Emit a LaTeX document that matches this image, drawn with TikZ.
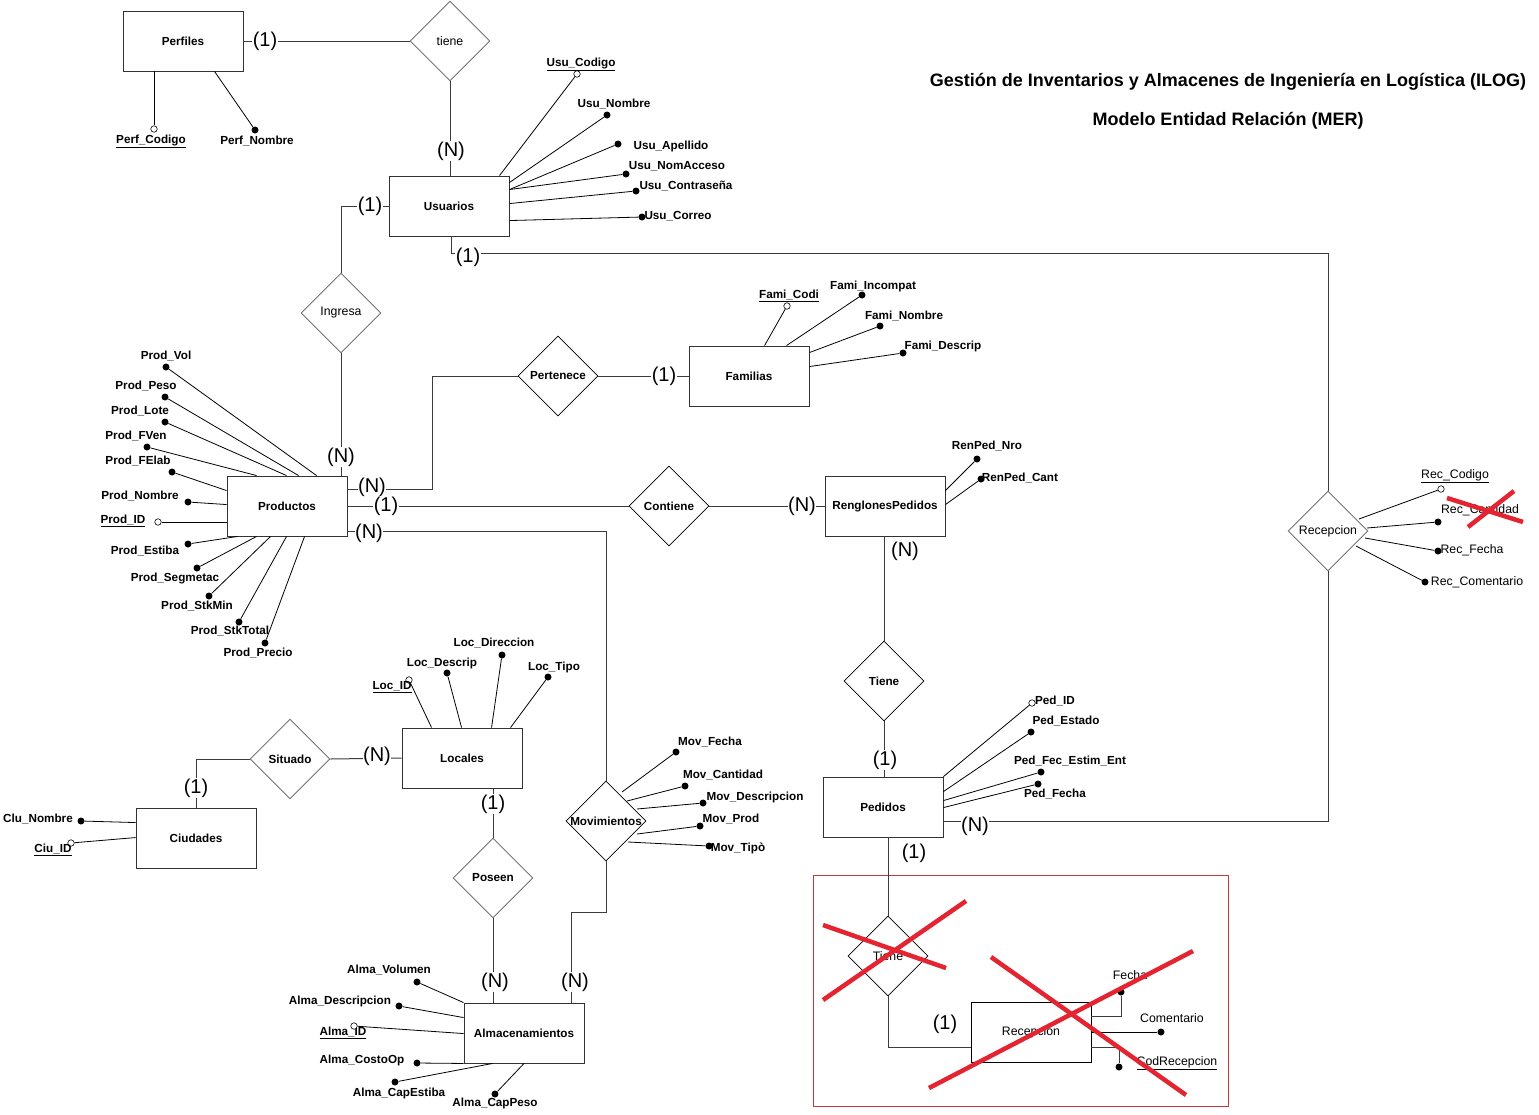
\documentclass[tikz,border=0pt]{standalone}
\usepackage{fontspec}
\setmainfont{Liberation Sans}
\usetikzlibrary{shapes.geometric,calc}
\newcommand\lbl{\fontsize{11.7}{14}\selectfont\bfseries}
\newcommand\lblr{\fontsize{12.3}{14}\selectfont}
\newcommand\cardf{\fontsize{20}{22}\selectfont}
\newcommand\ttlf{\fontsize{18}{21}\selectfont\bfseries}
\definecolor{boxred}{RGB}{200,55,55}
\definecolor{xred}{RGB}{228,36,48}
\definecolor{edge}{RGB}{60,60,60}

\begin{document}
\begin{tikzpicture}[x=1pt,y=-1pt,
 ent/.style={draw=black!80, line width=0.9pt, minimum width=120pt, minimum height=60pt, inner sep=1pt, fill=white, font=\lbl},
 entr/.style={ent, draw=black, line width=0.8pt, font=\lblr},
 dia/.style={diamond, draw=black, line width=0.7pt, minimum width=80pt, minimum height=80pt, inner sep=0pt, fill=white},
 rb/.style={dia, label={[font=\lbl, inner sep=0pt]center:#1}},
 rr/.style={dia, label={[font=\lblr, inner sep=0pt]center:#1}},
 grey/.style={draw=black!55, line width=0.9pt},
 card/.style={fill=white, inner sep=0.5pt, font=\cardf},
 attr/.style={inner sep=0pt, font=\lbl},
 attrr/.style={inner sep=0pt, font=\lblr},
 key/.style={circle, draw=black, fill=white, line width=0.6pt, minimum size=6.5pt, inner sep=0pt},
 val/.style={circle, fill=black, minimum size=7pt, inner sep=0pt},
 link/.style={draw=edge, line width=1pt},
 aline/.style={draw=black, line width=0.8pt},
 cross/.style={draw=xred, line width=4.5pt},
]
\fill[white] (0,0) rectangle (1539,1114);
\useasboundingbox (0,0) rectangle (1539,1114);

% title
\node[font=\ttlf] (title1) at (1228,82) {Gestión de Inventarios y Almacenes de Ingeniería en Logística (ILOG)};
\node[font=\ttlf] (title2) at (1228,121) {Modelo Entidad Relación (MER)};

% frame around the discarded part
\node[draw=boxred, line width=1pt, minimum width=415pt, minimum height=231pt, inner sep=0pt] (frame) at (1020.5,990.5) {};

% entities
\node[ent] (perf) at (183,41) {Perfiles};
\node[ent] (usu) at (449,206) {Usuarios};
\node[ent] (prod) at (287,506) {Productos};
\node[ent] (fam) at (749,376) {Familias};
\node[ent] (ren) at (885,506) {RenglonesPedidos};
\node[ent] (ped) at (883,807) {Pedidos};
\node[ent] (loc) at (462,758) {Locales};
\node[ent] (ciu) at (196,838) {Ciudades};
\node[ent] (alma) at (524,1033) {Almacenamientos};
\node[entr] (rcp) at (1031,1032) {Recepcion};

% relationships
\node[rr=tiene, grey] (tiene) at (450,41) {};
\node[rr=Ingresa, grey] (ing) at (341,313) {};
\node[rb=Pertenece] (pert) at (558,376) {};
\node[rb=Contiene] (cont) at (669,506) {};
\node[rb=Tiene] (tie) at (884,681) {};
\node[rb=Situado, grey] (sit) at (290,759) {};
\node[rb=Poseen, grey] (pos) at (493,878) {};
\node[rb=Movimientos] (mov) at (606,821) {};
\node[rr=Recepcion, grey] (rec) at (1328,531) {};
\node[rr=Tiene] (tie2) at (888,956) {};

% connectors between entities and relationships
\coordinate (jpert) at (432,376);
\coordinate (jmov) at (571,912);
\coordinate (jusu) at (451,253);
\draw[link] (perf.east) -- (tiene.west);
\draw[link] (tiene.south) -- (tiene.south |- usu.north);
\draw[link] (usu.west) -| (ing.north);
\draw[link] (ing.south) -- (ing.south |- prod.north);
\draw[link] ($(prod.north east)+(0,14)$) -| (jpert) -- (pert.west);
\draw[link] (pert.east) -- (fam.west);
\draw[link] (prod.east) -- (cont.west);
\draw[link] (cont.east) -- (ren.west);
\draw[link] ($(prod.south east)+(0,-5)$) -| (mov.north);
\draw[link] (mov.south) |- (jmov) -- (jmov |- alma.north);
\draw[link] (pos.north |- loc.south) -- (pos.north);
\draw[link] (pos.south) -- (pos.south |- alma.north);
\draw[link] (loc.west) -- (sit.east);
\draw[link] (sit.west) -| (ciu.north);
\draw[link] (tie.north |- ren.south) -- (tie.north);
\draw[link] (tie.south) -- (tie.south |- ped.north);
\draw[link] ($(ped.north east)+(0,45)$) -| (rec.south);
\draw[link] (rec.north) |- (jusu) -- (jusu |- usu.south);
\draw[link] (tie2.north |- ped.south) -- (tie2.north);
\draw[link] (tie2.south) |- ($(rcp.west)+(0,15)$);

% cardinalities
\node[card] (k1) at (265,41) {(1)};
\node[card] (k2) at (451,151) {(N)};
\node[card] (k3) at (370,206) {(1)};
\node[card] (k4) at (468,257) {(1)};
\node[card] (k5) at (341,457) {(N)};
\node[card] (k6) at (372,487) {(N)};
\node[card] (k7) at (386,506) {(1)};
\node[card] (k8) at (369,533) {(N)};
\node[card] (k9) at (664,376) {(1)};
\node[card] (k10) at (802,506) {(N)};
\node[card] (k11) at (905,551) {(N)};
\node[card] (k12) at (885,760) {(1)};
\node[card] (k13) at (975,826) {(N)};
\node[card] (k14) at (914,853) {(1)};
\node[card] (k15) at (945,1024) {(1)};
\node[card] (k16) at (377,756) {(N)};
\node[card] (k17) at (196,788) {(1)};
\node[card] (k18) at (493,804) {(1)};
\node[card] (k19) at (495,982) {(N)};
\node[card] (k20) at (575,982) {(N)};

% Perfiles attributes
\node[key] (pfc) at (154,129) {};
\node[attr] (pfct) at (151,141) {\underline{Perf\_Codigo}};
\draw[aline] (pfc |- perf.south) -- (pfc);
\node[val] (pfn) at (255,130) {};
\node[attr] (pfnt) at (257,141) {Perf\_Nombre};
\draw[aline] ($(perf.south west)+(92,0)$) -- (pfn);

% Usuarios attributes
\node[key] (uc) at (577,74) {};
\node[attr] (uct) at (581,64) {\underline{Usu\_Codigo}};
\draw[aline] ($(usu.north west)+(111,0)$) -- (uc);
\node[val] (un) at (607,115) {};
\node[attr] (unt) at (614,104) {Usu\_Nombre};
\draw[aline] ($(usu.north east)+(0,7)$) -- (un);
\node[val] (ua) at (618,144) {};
\node[attr] (uat) at (671,146) {Usu\_Apellido};
\draw[aline] ($(usu.north east)+(0,14)$) -- (ua);
\node[val] (una) at (626,174) {};
\node[attr] (unat) at (677,166) {Usu\_NomAcceso};
\draw[aline] ($(usu.north east)+(0,14)$) -- (una);
\node[val] (uco) at (636,191) {};
\node[attr] (ucot) at (686,186) {Usu\_Contraseña};
\draw[aline] ($(usu.north east)+(0,28)$) -- (uco);
\node[val] (ucr) at (642,217) {};
\node[attr] (ucrt) at (678,216) {Usu\_Correo};
\draw[aline] ($(usu.north east)+(0,45)$) -- (ucr);

% Productos attributes
\node[val] (p1) at (166,367) {};
\node[attr] (p1t) at (166,356) {Prod\_Vol};
\draw[aline] (p1) -- ($(prod.north west)+(90,0)$);
\node[val] (p2) at (165,397) {};
\node[attr] (p2t) at (146,386) {Prod\_Peso};
\draw[aline] (p2) -- ($(prod.north west)+(72,0)$);
\node[val] (p3) at (165,422) {};
\node[attr] (p3t) at (140,411) {Prod\_Lote};
\draw[aline] (p3) -- ($(prod.north west)+(60,0)$);
\node[val] (p4) at (147,447) {};
\node[attr] (p4t) at (136,436) {Prod\_FVen};
\draw[aline] (p4) -- ($(prod.north west)+(30,0)$);
\node[val] (p5) at (172,472) {};
\node[attr] (p5t) at (138,461) {Prod\_FElab};
\draw[aline] (p5) -- ($(prod.north west)+(0,15)$);
\node[val] (p6) at (188,502) {};
\node[attr] (p6t) at (140,496) {Prod\_Nombre};
\draw[aline] (p6) -- ($(prod.north west)+(0,29)$);
\node[key] (p7) at (158,522) {};
\node[attr] (p7t) at (123,521) {\underline{Prod\_ID}};
\draw[aline] (p7) -- (p7 -| prod.west);
\node[val] (p8) at (188,544) {};
\node[attr] (p8t) at (145,551) {Prod\_Estiba};
\draw[aline] (p8) -- ($(prod.south west)+(11,0)$);
\node[val] (p9) at (197,568) {};
\node[attr] (p9t) at (175,578) {Prod\_Segmetac};
\draw[aline] (p9) -- ($(prod.south west)+(30,0)$);
\node[val] (p10) at (209,596) {};
\node[attr] (p10t) at (197,606) {Prod\_StkMin};
\draw[aline] (p10) -- ($(prod.south west)+(44,0)$);
\node[val] (p11) at (239,622) {};
\node[attr] (p11t) at (230,631) {Prod\_StkTotal};
\draw[aline] (p11) -- ($(prod.south west)+(60,0)$);
\node[val] (p12) at (265,643) {};
\node[attr] (p12t) at (258,653) {Prod\_Precio};
\draw[aline] (p12) -- ($(prod.south west)+(78,0)$);

% Familias attributes
\node[key] (f1) at (787,306) {};
\node[attr] (f1t) at (789,296) {\underline{Fami\_Codi}};
\draw[aline] ($(fam.north west)+(76,0)$) -- (f1);
\node[val] (f2) at (862,295) {};
\node[attr] (f2t) at (873,286) {Fami\_Incompat};
\draw[aline] ($(fam.north west)+(98,0)$) -- (f2);
\node[val] (f3) at (880,326) {};
\node[attr] (f3t) at (904,316) {Fami\_Nombre};
\draw[aline] ($(fam.north east)+(0,7)$) -- (f3);
\node[val] (f4) at (903,353) {};
\node[attr] (f4t) at (943,346) {Fami\_Descrip};
\draw[aline] ($(fam.north east)+(0,21)$) -- (f4);

% RenglonesPedidos attributes
\node[val] (r1) at (977,459) {};
\node[attr] (r1t) at (987,446) {RenPed\_Nro};
\draw[aline] ($(ren.north east)+(0,15)$) -- (r1);
\node[val] (r2) at (981,479) {};
\node[attr] (r2t) at (1020,478) {RenPed\_Cant};
\draw[aline] ($(ren.north east)+(0,29)$) -- (r2);

% Pedidos attributes
\node[key] (d1) at (1032,703) {};
\node[attr] (d1t) at (1055,701) {Ped\_ID};
\draw[aline] (ped.north east) -- (d1);
\node[val] (d2) at (1031,732) {};
\node[attr] (d2t) at (1066,721) {Ped\_Estado};
\draw[aline] ($(ped.north east)+(0,15)$) -- (d2);
\node[val] (d3) at (1041,772) {};
\node[attr] (d3t) at (1070,761) {Ped\_Fec\_Estim\_Ent};
\draw[aline] ($(ped.north east)+(0,24)$) -- (d3);
\node[val] (d4) at (1038,784) {};
\node[attr] (d4t) at (1055,794) {Ped\_Fecha};
\draw[aline] ($(ped.north east)+(0,31)$) -- (d4);

% Locales attributes
\node[key] (l1) at (409,680) {};
\node[attr] (l1t) at (392,687) {\underline{Loc\_ID}};
\draw[aline] ($(loc.north west)+(30,0)$) -- (l1);
\node[val] (l2) at (447,673) {};
\node[attr] (l2t) at (442,663) {Loc\_Descrip};
\draw[aline] ($(loc.north west)+(60,0)$) -- (l2);
\node[val] (l3) at (502,655) {};
\node[attr] (l3t) at (494,643) {Loc\_Direccion};
\draw[aline] ($(loc.north west)+(90,0)$) -- (l3);
\node[val] (l4) at (548,677) {};
\node[attr] (l4t) at (554,667) {Loc\_Tipo};
\draw[aline] ($(loc.north west)+(109,0)$) -- (l4);

% Ciudades attributes
\node[val] (c1) at (81,821) {};
\node[attr] (c1t) at (38,819) {Clu\_Nombre};
\draw[aline] (c1) -- ($(ciu.north west)+(0,15)$);
\node[key] (c2) at (71,843) {};
\node[attr] (c2t) at (53,850) {\underline{Ciu\_ID}};
\draw[aline] (c2) -- ($(ciu.north west)+(0,30)$);

% Movimientos attributes
\node[val] (m1) at (676,752) {};
\node[attr] (m1t) at (710,742) {Mov\_Fecha};
\draw[aline] ($(mov)+(16,-29)$) -- (m1);
\node[val] (m2) at (685,786) {};
\node[attr] (m2t) at (723,775) {Mov\_Cantidad};
\draw[aline] ($(mov)+(21,-20)$) -- (m2);
\node[val] (m3) at (703,803) {};
\node[attr] (m3t) at (755,797) {Mov\_Descripcion};
\draw[aline] ($(mov)+(31,-12)$) -- (m3);
\node[val] (m4) at (700,826) {};
\node[attr] (m4t) at (731,819) {Mov\_Prod};
\draw[aline] ($(mov)+(31,13)$) -- (m4);
\node[val] (m5) at (709,846) {};
\node[attr] (m5t) at (738,848) {Mov\_Tipò};
\draw[aline] ($(mov)+(22,21)$) -- (m5);

% Almacenamientos attributes
\node[val] (a1) at (417,982) {};
\node[attr] (a1t) at (389,970) {Alma\_Volumen};
\draw[aline] (a1) -- (alma.north west);
\node[val] (a2) at (399,1006) {};
\node[attr] (a2t) at (340,1001) {Alma\_Descripcion};
\draw[aline] (a2) -- ($(alma.north west)+(0,15)$);
\node[attr] (a3t) at (343,1033) {\underline{Alma\_ID}};
\node[key] (a3) at (354,1026) {};
\draw[aline] (a3) -- ($(alma.north west)+(0,31)$);
\node[val] (a4) at (417,1063) {};
\node[attr] (a4t) at (362,1060) {Alma\_CostoOp};
\draw[aline] (a4) -- (alma.south west);
\node[val] (a5) at (395,1082) {};
\node[attr] (a5t) at (399,1093) {Alma\_CapEstiba};
\draw[aline] (a5) -- ($(alma.south west)+(29,0)$);
\node[val] (a6) at (495,1094) {};
\node[attr] (a6t) at (495,1103) {Alma\_CapPeso};
\draw[aline] (a6) -- (alma.south);

% Recepcion (relationship) attributes
\node[key] (e1) at (1441,489) {};
\node[attrr] (e1t) at (1455,476) {\underline{Rec\_Codigo}};
\draw[aline] ($(rec)+(31,-12)$) -- (e1);
\node[val] (e2) at (1438,522) {};
\node[attrr] (e2t) at (1480,510) {Rec\_Cantidad};
\draw[aline] ($(rec)+(39,-3)$) -- (e2);
\node[val] (e3) at (1438,551) {};
\node[attrr] (e3t) at (1472,550) {Rec\_Fecha};
\draw[aline] ($(rec)+(37,7)$) -- (e3);
\node[val] (e4) at (1425,582) {};
\node[attrr] (e4t) at (1477,582) {Rec\_Comentario};
\draw[aline] ($(rec)+(28,15)$) -- (e4);

% Recepcion (entity) attributes
\node[val] (g1) at (1121,992) {};
\node[attrr] (g1t) at (1130,975) {Fecha};
\draw[link] ($(rcp.east)+(0,-16)$) -| (g1);
\node[val] (g2) at (1161,1032) {};
\node[attrr] (g2t) at (1172,1018) {Comentario};
\draw[aline] (rcp.east) -- (g2);
\node[val] (g3) at (1119,1067) {};
\node[attrr] (g3t) at (1177,1063) {\underline{CodRecepcion}};
\draw[link] ($(rcp.east)+(0,15)$) -| (g3);

% strike-outs
\draw[cross] (823,925) -- (946,968);
\draw[cross] (823,1000) -- (966,901);
\draw[cross] (991,957) -- (1186,1095);
\draw[cross] (929,1088) -- (1193,951);
\draw[cross] (1447,498) -- (1523,522);
\draw[cross] (1468,527) -- (1514,491);
\end{tikzpicture}
\end{document}
